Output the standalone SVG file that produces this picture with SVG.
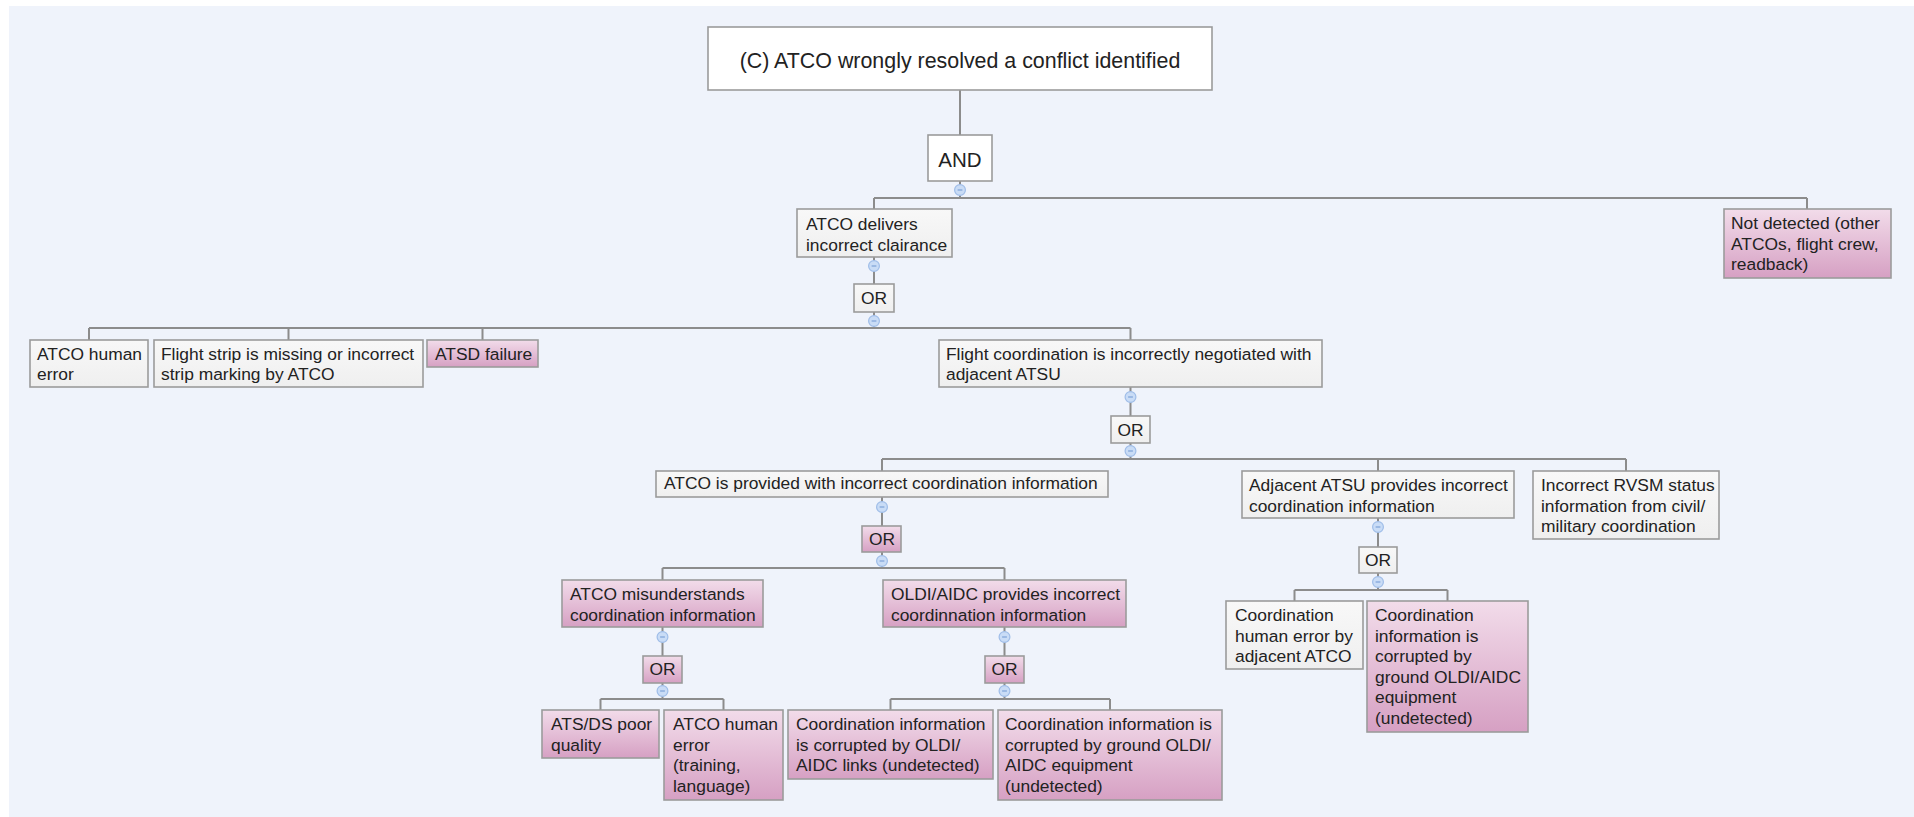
<svg xmlns="http://www.w3.org/2000/svg" width="1914" height="817" viewBox="0 0 1914 817">
  <style>
    .bg { fill: #eff3fb; }
    .box { stroke: #9b9b9b; stroke-width: 1.6; }
    .plain { fill: url(#plainFill); }
    .white { fill: #ffffff; }
    .pink { fill: url(#pinkFill); }
    .t { font-family: "Liberation Sans", Arial, sans-serif; font-size: 17.4px; fill: #222222; }
    .gate { font-family: "Liberation Sans", Arial, sans-serif; font-size: 17.4px; fill: #222222; text-anchor: middle; }
    .wire { stroke: #8c8c8c; stroke-width: 2; fill: none; }
    .knob { fill: #c9dcf6; stroke: #9fbde8; stroke-width: 1.2; }
    .dash { stroke: #7ea2d8; stroke-width: 1.2; }
  </style>
  <defs>
    <linearGradient id="plainFill" x1="0" y1="0" x2="0" y2="1">
      <stop offset="0" stop-color="#f8f8f8"/>
      <stop offset="1" stop-color="#efefef"/>
    </linearGradient>
    <linearGradient id="pinkFill" x1="0" y1="0" x2="0" y2="1">
      <stop offset="0" stop-color="#f2dcea"/>
      <stop offset="1" stop-color="#d6a0c3"/>
    </linearGradient>
    <g id="knob">
      <circle class="knob" cx="0" cy="0" r="5.4"/>
      <line class="dash" x1="-2.4" y1="0" x2="2.4" y2="0"/>
    </g>
  </defs>

  <rect x="0" y="0" width="1914" height="817" fill="#ffffff"/>
  <rect class="bg" x="9" y="6" width="1905" height="811"/>

  <!-- connectors -->
  <g id="connectors">
    <path class="wire" d="M960 90V135 M960 181V198 M874 198H1807 M874 198V209 M1807 198V209"/>
    <path class="wire" d="M874 257V284 M874 312V328 M89 328H1130.5 M89 328V340 M288.5 328V340 M482.5 328V340 M1130.5 328V340"/>
    <path class="wire" d="M1130.5 387V416 M1130.5 443V459 M882 459H1626 M882 459V471 M1378 459V471 M1626 459V471"/>
    <path class="wire" d="M882 497V526 M882 552V568 M662.5 568H1004.5 M662.5 568V580 M1004.5 568V580"/>
    <path class="wire" d="M662.5 627V656 M662.5 683V699 M600.5 699H723.5 M600.5 699V710 M723.5 699V710"/>
    <path class="wire" d="M1004.5 627V656 M1004.5 683V699 M890.5 699H1110 M890.5 699V710 M1110 699V710"/>
    <path class="wire" d="M1378 518V547 M1378 573V590 M1294.5 590H1447.5 M1294.5 590V601 M1447.5 590V601"/>
    <!-- collapse handles -->
    <use href="#knob" x="960" y="190"/>
    <use href="#knob" x="874" y="266"/>
    <use href="#knob" x="874" y="321"/>
    <use href="#knob" x="1130.5" y="397"/>
    <use href="#knob" x="1130.5" y="451"/>
    <use href="#knob" x="882" y="507"/>
    <use href="#knob" x="882" y="561"/>
    <use href="#knob" x="662.5" y="637"/>
    <use href="#knob" x="662.5" y="691"/>
    <use href="#knob" x="1004.5" y="637"/>
    <use href="#knob" x="1004.5" y="691"/>
    <use href="#knob" x="1378" y="527"/>
    <use href="#knob" x="1378" y="582"/>
  </g>

  <!-- top event and AND gate -->
  <g id="top-event">
    <rect class="box white" x="708" y="27" width="504" height="63"/>
    <text class="t" x="960" y="68" text-anchor="middle" style="font-size:21.4px">(C) ATCO wrongly resolved a conflict identified</text>
  </g>
  <g id="gate-and">
    <rect class="box white" x="928" y="135" width="64" height="46"/>
    <text class="gate" x="960" y="167" style="font-size:20.5px">AND</text>
  </g>

  <!-- level 1 -->
  <g id="delivers-incorrect-clearance">
    <rect class="box plain" x="797" y="209" width="155" height="48"/>
    <text class="t" x="806" y="230">ATCO delivers</text>
    <text class="t" x="806" y="250.5">incorrect clairance</text>
  </g>
  <g id="not-detected">
    <rect class="box pink" x="1724" y="209" width="167" height="69"/>
    <text class="t" x="1731" y="229">Not detected (other</text>
    <text class="t" x="1731" y="249.5">ATCOs, flight crew,</text>
    <text class="t" x="1731" y="270">readback)</text>
  </g>
  <g id="gate-or-1">
    <rect class="box plain" x="854" y="284" width="40" height="28"/>
    <text class="gate" x="874" y="304">OR</text>
  </g>

  <!-- level 2 -->
  <g id="atco-human-error">
    <rect class="box plain" x="30" y="340" width="118" height="47"/>
    <text class="t" x="37" y="360">ATCO human</text>
    <text class="t" x="37" y="380">error</text>
  </g>
  <g id="flight-strip">
    <rect class="box plain" x="154" y="340" width="269" height="47"/>
    <text class="t" x="161" y="360">Flight strip is missing or incorrect</text>
    <text class="t" x="161" y="380">strip marking by ATCO</text>
  </g>
  <g id="atsd-failure">
    <rect class="box pink" x="427" y="340" width="111" height="27"/>
    <text class="t" x="435" y="360">ATSD failure</text>
  </g>
  <g id="flight-coordination">
    <rect class="box plain" x="939" y="340" width="383" height="47"/>
    <text class="t" x="946" y="360">Flight coordination is incorrectly negotiated with</text>
    <text class="t" x="946" y="380">adjacent ATSU</text>
  </g>
  <g id="gate-or-2">
    <rect class="box plain" x="1111" y="416" width="39" height="27"/>
    <text class="gate" x="1130.5" y="436">OR</text>
  </g>

  <!-- level 3 -->
  <g id="incorrect-coordination-info">
    <rect class="box plain" x="656" y="471" width="452" height="26"/>
    <text class="t" x="664" y="489">ATCO is provided with incorrect coordination information</text>
  </g>
  <g id="adjacent-atsu">
    <rect class="box plain" x="1242" y="471" width="272" height="47"/>
    <text class="t" x="1249" y="491">Adjacent ATSU provides incorrect</text>
    <text class="t" x="1249" y="511.5">coordination information</text>
  </g>
  <g id="rvsm-status">
    <rect class="box plain" x="1533" y="471" width="186" height="68"/>
    <text class="t" x="1541" y="491">Incorrect RVSM status</text>
    <text class="t" x="1541" y="511.5">information from civil/</text>
    <text class="t" x="1541" y="532">military coordination</text>
  </g>
  <g id="gate-or-3">
    <rect class="box pink" x="862" y="526" width="39" height="26"/>
    <text class="gate" x="882" y="545">OR</text>
  </g>
  <g id="gate-or-4">
    <rect class="box plain" x="1359" y="547" width="38" height="26"/>
    <text class="gate" x="1378" y="566">OR</text>
  </g>

  <!-- level 4 -->
  <g id="misunderstands">
    <rect class="box pink" x="562" y="580" width="201" height="47"/>
    <text class="t" x="570" y="600">ATCO misunderstands</text>
    <text class="t" x="570" y="620.5">coordination information</text>
  </g>
  <g id="oldi-aidc">
    <rect class="box pink" x="883" y="580" width="243" height="47"/>
    <text class="t" x="891" y="600">OLDI/AIDC provides incorrect</text>
    <text class="t" x="891" y="620.5">coordinnation information</text>
  </g>
  <g id="adjacent-human-error">
    <rect class="box plain" x="1226" y="601" width="137" height="68"/>
    <text class="t" x="1235" y="621">Coordination</text>
    <text class="t" x="1235" y="641.5">human error by</text>
    <text class="t" x="1235" y="662">adjacent ATCO</text>
  </g>
  <g id="adjacent-ground-equipment">
    <rect class="box pink" x="1367" y="601" width="161" height="131"/>
    <text class="t" x="1375" y="621">Coordination</text>
    <text class="t" x="1375" y="641.5">information is</text>
    <text class="t" x="1375" y="662">corrupted by</text>
    <text class="t" x="1375" y="682.5">ground OLDI/AIDC</text>
    <text class="t" x="1375" y="703">equipment</text>
    <text class="t" x="1375" y="723.5">(undetected)</text>
  </g>
  <g id="gate-or-5">
    <rect class="box pink" x="643" y="656" width="39" height="27"/>
    <text class="gate" x="662.5" y="675">OR</text>
  </g>
  <g id="gate-or-6">
    <rect class="box pink" x="985" y="656" width="39" height="27"/>
    <text class="gate" x="1004.5" y="675">OR</text>
  </g>

  <!-- level 5 -->
  <g id="atsds-quality">
    <rect class="box pink" x="542" y="710" width="117" height="48"/>
    <text class="t" x="551" y="730">ATS/DS poor</text>
    <text class="t" x="551" y="750.5">quality</text>
  </g>
  <g id="atco-human-error-training">
    <rect class="box pink" x="664" y="710" width="119" height="90"/>
    <text class="t" x="673" y="730">ATCO human</text>
    <text class="t" x="673" y="750.5">error</text>
    <text class="t" x="673" y="771">(training,</text>
    <text class="t" x="673" y="791.5">language)</text>
  </g>
  <g id="corrupted-links">
    <rect class="box pink" x="788" y="710" width="205" height="69"/>
    <text class="t" x="796" y="730">Coordination information</text>
    <text class="t" x="796" y="750.5">is corrupted by OLDI/</text>
    <text class="t" x="796" y="771">AIDC links (undetected)</text>
  </g>
  <g id="corrupted-ground-equipment">
    <rect class="box pink" x="998" y="710" width="224" height="90"/>
    <text class="t" x="1005" y="730">Coordination information is</text>
    <text class="t" x="1005" y="750.5">corrupted by ground OLDI/</text>
    <text class="t" x="1005" y="771">AIDC equipment</text>
    <text class="t" x="1005" y="791.5">(undetected)</text>
  </g>
</svg>
